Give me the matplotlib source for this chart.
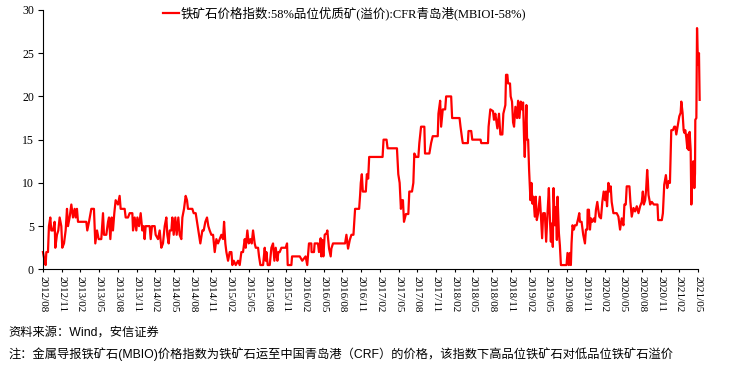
import numpy as np
import matplotlib
matplotlib.use('Agg')
import matplotlib.pyplot as plt

# time as decimal years, value = premium (USD/t)
t_a = [2012.583, 2012.600, 2012.619, 2012.628, 2012.650, 2012.663, 2012.681, 2012.694, 2012.717, 2012.739,
       2012.748, 2012.770, 2012.788, 2012.806, 2012.828, 2012.841, 2012.864, 2012.886, 2012.904, 2012.917,
       2012.939, 2012.962, 2012.984, 2013.006, 2013.020, 2013.037, 2013.051, 2013.162, 2013.175, 2013.198,
       2013.229, 2013.264, 2013.282, 2013.305, 2013.327, 2013.362, 2013.385, 2013.398, 2013.429, 2013.452,
       2013.465, 2013.483, 2013.501, 2013.518, 2013.536, 2013.554, 2013.585, 2013.607, 2013.621, 2013.674,
       2013.688, 2013.719, 2013.741, 2013.777, 2013.786, 2013.808, 2013.830, 2013.844, 2013.866, 2013.888,
       2013.910, 2013.928, 2013.941, 2013.955, 2014.008, 2014.022, 2014.039, 2014.075, 2014.088, 2014.120,
       2014.142, 2014.164, 2014.186, 2014.209, 2014.231, 2014.244, 2014.262, 2014.276, 2014.298, 2014.311,
       2014.329, 2014.351, 2014.369, 2014.391, 2014.409, 2014.431, 2014.445, 2014.467, 2014.489, 2014.507,
       2014.520, 2014.578, 2014.596, 2014.623, 2014.641, 2014.667, 2014.685, 2014.712, 2014.730, 2014.752,
       2014.774, 2014.792, 2014.810, 2014.832, 2014.855, 2014.877, 2014.899, 2014.921, 2014.944, 2014.966,
       2014.988, 2015.002, 2015.019, 2015.033, 2015.055, 2015.077, 2015.100, 2015.113, 2015.131, 2015.158,
       2015.189, 2015.211, 2015.233, 2015.255, 2015.278, 2015.291, 2015.313, 2015.331, 2015.353, 2015.371,
       2015.389, 2015.411, 2015.425, 2015.456, 2015.469, 2015.487, 2015.523, 2015.545, 2015.558, 2015.567,
       2015.585, 2015.612, 2015.634, 2015.656, 2015.674, 2015.692, 2015.714, 2015.727, 2015.745, 2015.768,
       2015.825, 2015.843, 2015.852, 2015.901, 2015.910, 2016.013]
v_a = [2.0, 1.2, 0.5, 2.0, 2.0, 5.0, 6.0, 4.5, 4.5, 5.5,
       2.5, 4.0, 4.5, 6.0, 5.0, 2.5, 3.0, 4.5, 7.0, 5.0,
       6.0, 7.5, 6.0, 7.0, 6.0, 7.0, 5.5, 5.5, 4.5, 5.5,
       7.0, 7.0, 3.0, 4.5, 3.5, 3.5, 6.5, 4.0, 4.0, 5.5,
       6.0, 3.5, 6.0, 4.5, 6.5, 8.0, 7.5, 8.5, 7.0, 7.0,
       6.0, 6.0, 6.5, 6.5, 4.5, 6.0, 4.5, 6.0, 5.0, 6.5,
       4.5, 5.0, 3.5, 5.0, 5.0, 3.5, 5.0, 5.0, 4.0, 3.5,
       4.5, 2.5, 3.0, 5.0, 6.0, 4.0, 3.0, 4.5, 4.5, 6.0,
       4.0, 6.0, 4.0, 6.0, 4.0, 3.5, 6.0, 7.0, 8.5, 8.0,
       7.0, 7.0, 6.5, 6.5, 5.5, 4.0, 3.0, 4.5, 4.5, 5.5,
       6.0, 5.0, 4.5, 4.0, 4.0, 2.0, 3.5, 3.0, 3.5, 4.0,
       3.5, 5.5, 3.0, 2.0, 1.0, 2.0, 2.0, 0.5, 1.0, 0.5,
       1.0, 0.5, 2.0, 2.0, 3.5, 2.5, 4.5, 3.0, 3.5, 3.0,
       4.5, 3.0, 2.5, 2.5, 1.5, 0.5, 0.5, 2.5, 1.0, 2.0,
       0.5, 0.5, 2.5, 3.0, 1.0, 2.5, 1.0, 2.0, 2.0, 2.5,
       2.5, 3.0, 0.5, 0.5, 1.5, 1.5]

t_b = [2016.046, 2016.091, 2016.113, 2016.136, 2016.167, 2016.171, 2016.203, 2016.212, 2016.256, 2016.270,
       2016.292, 2016.301, 2016.314, 2016.328, 2016.346, 2016.373, 2016.381, 2016.404, 2016.426, 2016.435,
       2016.457, 2016.618, 2016.636, 2016.658, 2016.681, 2016.703, 2016.730, 2016.752, 2016.806, 2016.819,
       2016.828, 2016.842, 2016.855, 2016.895, 2016.909, 2016.927, 2016.940, 2017.119, 2017.132, 2017.172,
       2017.186, 2017.311, 2017.329, 2017.347, 2017.364, 2017.378, 2017.391, 2017.405, 2017.431, 2017.463,
       2017.476, 2017.512, 2017.530, 2017.543, 2017.565, 2017.597, 2017.610, 2017.633, 2017.677, 2017.686,
       2017.744, 2017.767]
v_b = [1.0, 1.5, 0.5, 3.0, 3.0, 2.0, 2.0, 3.0, 3.0, 2.0,
       3.6, 1.5, 3.4, 1.5, 4.0, 4.2, 4.5, 2.4, 1.5, 2.4,
       3.0, 3.0, 4.0, 2.4, 3.4, 4.0, 4.0, 7.0, 7.0, 8.6,
       10.0, 11.0, 9.0, 9.0, 11.0, 10.5, 13.0, 13.0, 15.0, 15.0,
       14.0, 14.0, 11.0, 10.0, 7.0, 8.0, 8.0, 5.5, 6.4, 6.4,
       9.0, 9.0, 10.0, 13.4, 13.0, 13.0, 14.6, 16.5, 16.5, 13.4,
       13.4, 14.6]

t_c = [2017.789, 2017.856, 2017.865, 2017.888, 2017.901, 2017.923, 2017.955, 2017.968, 2018.035, 2018.048,
       2018.147, 2018.160, 2018.183, 2018.191, 2018.258, 2018.267, 2018.303, 2018.317, 2018.428, 2018.437,
       2018.527, 2018.535, 2018.558, 2018.594, 2018.607, 2018.625, 2018.652, 2018.674, 2018.692, 2018.719,
       2018.732, 2018.759, 2018.768, 2018.786, 2018.795, 2018.821, 2018.830, 2018.848, 2018.862, 2018.875,
       2018.893, 2018.915, 2018.929, 2018.947, 2018.964, 2018.982, 2018.996, 2019.009, 2019.018, 2019.040,
       2019.049, 2019.063, 2019.076, 2019.094, 2019.107, 2019.121, 2019.134, 2019.152, 2019.165, 2019.179,
       2019.197, 2019.219, 2019.232, 2019.250, 2019.264, 2019.286, 2019.304, 2019.322, 2019.340, 2019.353,
       2019.367, 2019.376, 2019.393, 2019.402, 2019.420, 2019.434, 2019.447, 2019.456, 2019.474, 2019.487,
       2019.501]
v_c = [15.4, 15.4, 18.0, 19.5, 16.5, 18.5, 18.5, 20.0, 20.0, 17.5,
       17.5, 16.5, 15.0, 14.6, 14.6, 16.0, 16.0, 15.0, 15.0, 14.6,
       14.6, 16.5, 18.5, 18.3, 17.3, 18.0, 16.3, 18.0, 15.6, 15.6,
       18.0, 19.0, 22.5, 22.5, 21.5, 21.5, 20.0, 19.4, 17.0, 16.5,
       18.8, 17.5, 19.5, 17.5, 19.4, 18.5, 19.3, 15.0, 13.0, 19.0,
       15.0, 15.0, 11.5, 8.0, 10.0, 7.6, 8.4, 6.1, 8.4, 5.7,
       6.5, 8.4, 6.5, 3.6, 6.5, 6.5, 3.2, 6.5, 9.4, 6.1,
       3.2, 5.3, 2.6, 9.4, 5.1, 7.2, 3.4, 8.4, 4.2, 2.8,
       0.5]

t_d = [2019.576, 2019.589, 2019.607, 2019.621, 2019.634, 2019.643, 2019.656, 2019.674, 2019.688, 2019.710,
       2019.732, 2019.746, 2019.755, 2019.777, 2019.799, 2019.822, 2019.835, 2019.853, 2019.858, 2019.875,
       2019.889, 2019.902, 2019.920, 2019.942, 2019.956, 2019.969, 2019.987, 2020.000, 2020.014, 2020.036,
       2020.054, 2020.072, 2020.090, 2020.103, 2020.117, 2020.135, 2020.148, 2020.166, 2020.179, 2020.202,
       2020.246, 2020.269, 2020.291, 2020.313, 2020.336, 2020.349, 2020.367, 2020.380, 2020.416, 2020.429,
       2020.447, 2020.470, 2020.492, 2020.514, 2020.537, 2020.559, 2020.581, 2020.595, 2020.608, 2020.626,
       2020.639, 2020.653, 2020.662, 2020.671, 2020.684, 2020.693, 2020.715, 2020.742, 2020.791, 2020.800,
       2020.849, 2020.863, 2020.881, 2020.903, 2020.921, 2020.939, 2020.957, 2020.975, 2020.997, 2021.015,
       2021.028, 2021.042, 2021.059, 2021.082, 2021.100, 2021.109, 2021.126, 2021.140, 2021.149, 2021.162,
       2021.176, 2021.189, 2021.198, 2021.207, 2021.220, 2021.234, 2021.243, 2021.256, 2021.269, 2021.283,
       2021.292, 2021.296, 2021.310, 2021.319, 2021.328, 2021.336, 2021.345, 2021.354]
v_d = [0.5, 1.9, 0.5, 1.9, 0.5, 3.0, 5.1, 4.6, 5.1, 5.1,
       5.9, 6.5, 5.5, 5.5, 4.0, 3.0, 4.6, 4.6, 6.9, 6.9,
       4.6, 5.9, 5.5, 5.9, 5.5, 6.9, 7.8, 6.9, 6.1, 5.9,
       7.8, 9.0, 8.0, 9.0, 7.3, 10.0, 9.0, 9.6, 7.8, 6.5,
       6.5, 6.1, 4.6, 5.9, 5.1, 7.5, 7.5, 9.6, 9.6, 7.8,
       6.1, 7.1, 6.7, 7.3, 6.5, 7.3, 7.8, 9.0, 7.5, 8.0,
       9.2, 11.5, 10.3, 8.6, 8.0, 7.5, 7.8, 7.5, 7.5, 5.7,
       5.7, 6.5, 9.8, 10.9, 9.4, 10.2, 10.0, 16.1, 16.1, 16.5,
       16.5, 15.6, 16.5, 17.7, 18.1, 19.4, 18.1, 16.1, 15.8, 16.1,
       15.2, 14.0, 15.6, 13.8, 15.9, 13.8, 7.5, 11.1, 12.5, 9.4,
       11.1, 17.3, 17.5, 27.9, 25.0, 23.7, 25.0, 19.6]

t = np.array(t_a + t_b + t_c + t_d)
v = np.array(v_a + v_b + v_c + v_d)

tick_pos = [2012 + 7 / 12 + 0.25 * i for i in range(36)]
tick_lab = ['%d/%02d' % (2012 + (7 + 3 * i) // 12, (7 + 3 * i) % 12 + 1) for i in range(36)]

label = '铁矿石价格指数:58%品位优质矿(溢价):CFR青岛港(MBIOI-58%)'
note1 = '资料来源：Wind，安信证券'
note2 = '注：金属导报铁矿石(MBIO)价格指数为铁矿石运至中国青岛港（CRF）的价格，该指数下高品位铁矿石对低品位铁矿石溢价'

serif = ['Liberation Serif', 'Noto Sans CJK SC']
sans = ['Liberation Sans', 'Noto Sans CJK SC']

fig = plt.figure(figsize=(7.31, 3.68), dpi=100)
ax = fig.add_axes([0.0588, 0.268, 0.8962, 0.705])

ax.plot(t, v, color='#ff0000', lw=1.6, label=label, clip_on=False)

ax.set_xlim(tick_pos[0], tick_pos[-1])
ax.set_ylim(0, 30)
ax.set_yticks(range(0, 31, 5))
ax.set_xticks(tick_pos)
ax.set_xticklabels(tick_lab, rotation=270, fontsize=8, family=serif)
for lab in ax.get_yticklabels():
    lab.set_family(serif)
    lab.set_fontsize(8.5)

ax.spines['top'].set_visible(False)
ax.spines['right'].set_visible(False)
ax.tick_params(axis='y', direction='out', length=3.5, width=0.8, pad=3)
ax.tick_params(axis='x', direction='out', length=2.5, width=0.8, pad=2)

leg = ax.legend(loc='center', bbox_to_anchor=(0.46, 0.985), frameon=False,
                handlelength=1.3, handletextpad=0.15, borderaxespad=0,
                prop={'family': serif, 'size': 9})

fig.text(0.011, 0.095, note1, fontsize=8.8, family=sans, va='center')
fig.text(0.011, 0.038, note2, fontsize=8.8, family=sans, va='center')

fig.savefig('out.png', dpi=100)
